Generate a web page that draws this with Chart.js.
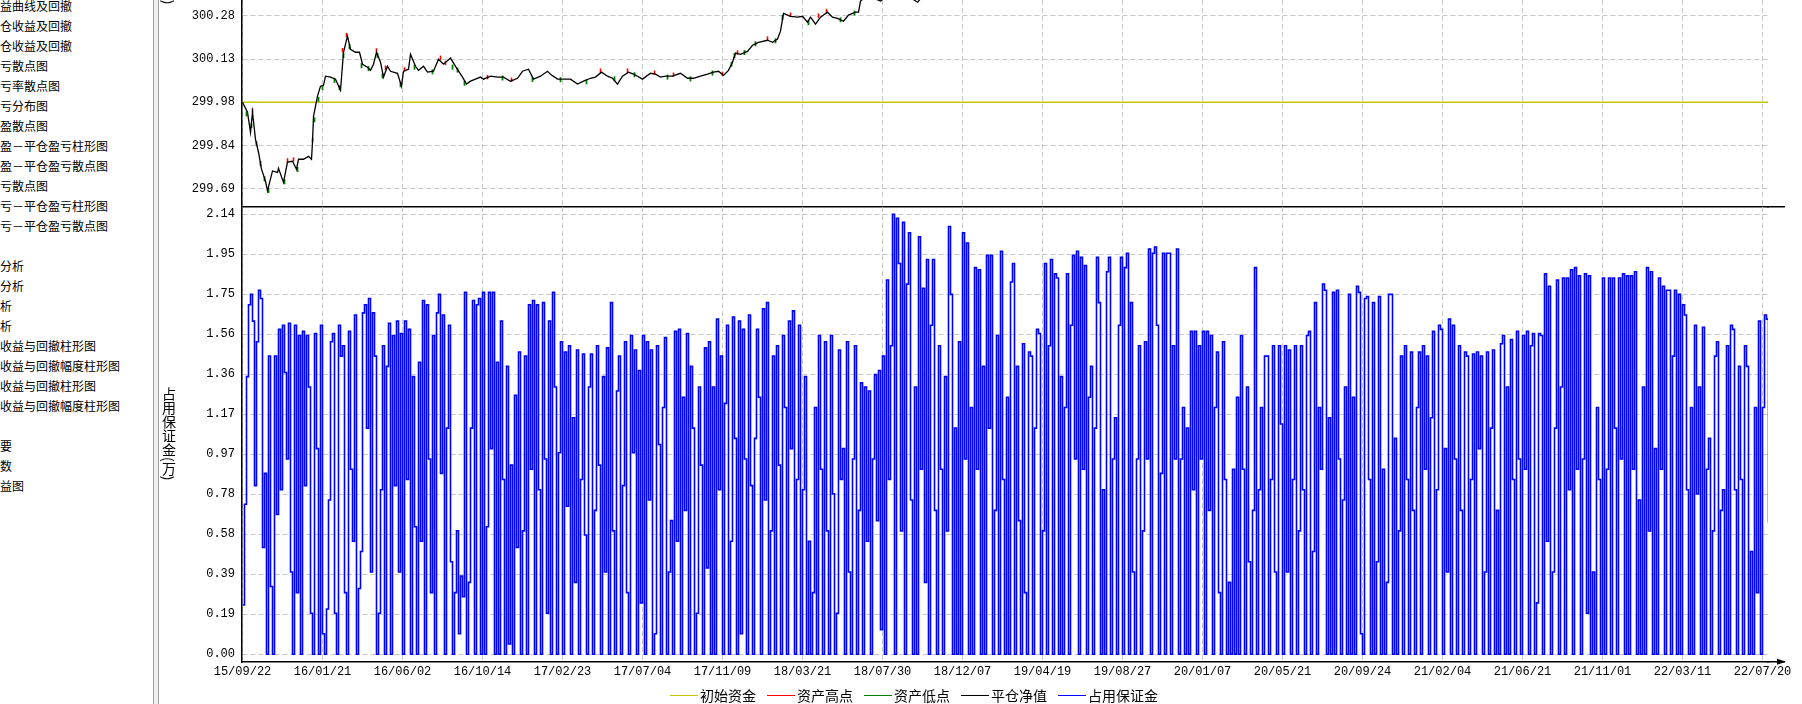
<!DOCTYPE html>
<html>
<head>
<meta charset="utf-8">
<script src="https://cdn.jsdelivr.net/npm/chart.js@4.4.1/dist/chart.umd.min.js"></script>
<style>
html,body{margin:0;padding:0;background:#fff;}
body{width:1802px;height:704px;overflow:hidden;position:relative;}
#side{position:absolute;left:0;top:0;width:153px;height:704px;overflow:hidden;font-family:"Noto Sans CJK SC";font-size:12px;color:#000;}
.row{position:absolute;left:0;height:20px;line-height:20px;white-space:nowrap;}
#split{position:absolute;left:153px;top:0;width:4px;height:704px;border-left:1px solid #a0a0a0;border-right:1px solid #a0a0a0;background:#f0f0f0;}
canvas{position:absolute;}
#cTop{left:160px;top:0;}
#cBot{left:160px;top:197px;}
.vtitle{position:absolute;writing-mode:vertical-rl;font-family:"Noto Sans CJK SC";font-size:14px;line-height:14px;color:#000;white-space:nowrap;}
#legend{position:absolute;top:686px;left:670px;height:18px;display:flex;align-items:center;font-family:"Noto Sans CJK SC";font-size:14px;color:#000;white-space:nowrap;}
.lg{display:flex;align-items:center;margin-right:11px;}
.lg i{display:inline-block;width:28px;height:0;border-top:1.5px solid #000;margin-right:2px;}
</style>
</head>
<body>
<div id="side"></div>
<div id="split"></div>
<canvas id="cTop" width="1642" height="208"></canvas>
<canvas id="cBot" width="1642" height="507"></canvas>
<div class="vtitle" id="tTop" style="left:162px;bottom:700px;">资产(万)</div>
<div class="vtitle" id="tBot" style="left:162px;top:387px;">占用保证金(万)</div>
<div id="legend"></div>
<script>
// ---------------- data ----------------
const leftPanelRows = ['益曲线及回撤','仓收益及回撤','仓收益及回撤','亏散点图','亏率散点图','亏分布图','盈散点图','盈－平仓盈亏柱形图','盈－平仓盈亏散点图','亏散点图','亏－平仓盈亏柱形图','亏－平仓盈亏散点图','','分析','分析','析','析','收益与回撤柱形图','收益与回撤幅度柱形图','收益与回撤柱形图','收益与回撤幅度柱形图','','要','数','益图'];

const dateTickDays = [0,80,160,240,320,400,480,560,640,720,800,880,960,1040,1120,1200,1280,1360,1440,1520];
const dateTickLabels = ['15/09/22','16/01/21','16/06/02','16/10/14','17/02/23','17/07/04','17/11/09','18/03/21','18/07/30','18/12/07','19/04/19','19/08/27','20/01/07','20/05/21','20/09/24','21/02/04','21/06/21','21/11/01','22/03/11','22/07/20'];
const LAST_DAY = 1526;

const equityTickValues = [299.685, 299.8325, 299.98, 300.1275, 300.275];
const equityTickLabels = ['299.69','299.84','299.98','300.13','300.28'];
const marginTickValues = [0, 0.1945, 0.389, 0.5835, 0.778, 0.9725, 1.167, 1.3615, 1.556, 1.7505, 1.945, 2.1395];
const marginTickLabels = ['0.00','0.19','0.39','0.58','0.78','0.97','1.17','1.36','1.56','1.75','1.95','2.14'];

const initialCapital = 299.98;

// closed equity (平仓净值): trading-day index and value
const equityDays = [0,5,8,10,13,16,19,23,25,30,35,36,41,45,50,54,56,61,66,69,70,71,75,78,81,83,88,93,98,101,105,108,113,117,120,125,128,131,134,138,141,145,148,155,159,161,166,168,173,176,181,185,191,196,201,208,213,220,224,228,233,238,241,248,255,261,268,275,280,286,291,298,305,308,315,321,328,335,341,348,353,359,365,370,375,380,386,391,395,400,408,413,418,423,430,438,445,451,458,465,471,476,481,486,490,493,498,505,510,516,525,530,535,538,541,548,555,560,565,568,573,578,585,590,595,601,606,613,616,618,625,638,645,658,675,690,720,780,850,920,1000,1080,1160,1240,1320,1400,1480,1526];
const equityValues = [299.980,299.946,299.877,299.946,299.853,299.809,299.751,299.710,299.677,299.745,299.740,299.754,299.706,299.775,299.778,299.751,299.785,299.785,299.795,299.785,299.843,299.932,300.001,300.035,300.038,300.069,300.066,300.059,300.021,300.151,300.206,300.161,300.151,300.151,300.110,300.100,300.089,300.110,300.151,300.117,300.066,300.103,300.086,300.079,300.035,300.086,300.093,300.144,300.103,300.089,300.103,300.083,300.086,300.127,300.110,300.131,300.103,300.066,300.042,300.052,300.059,300.066,300.059,300.069,300.066,300.066,300.052,300.062,300.086,300.093,300.059,300.069,300.086,300.076,300.059,300.059,300.059,300.042,300.052,300.062,300.066,300.083,300.069,300.062,300.042,300.069,300.083,300.076,300.069,300.059,300.079,300.076,300.066,300.069,300.069,300.079,300.062,300.062,300.069,300.076,300.083,300.086,300.072,300.089,300.117,300.148,300.144,300.154,300.175,300.185,300.192,300.185,300.196,300.223,300.284,300.274,300.271,300.274,300.254,300.271,300.247,300.271,300.288,300.271,300.267,300.257,300.278,300.288,300.288,300.326,300.345,300.326,300.345,300.360,300.322,300.380,300.420,300.480,300.530,300.580,300.620,300.660,300.700,300.760,300.800,300.850,300.880,300.900];

// asset highs (资产高点) and lows (资产低点)
const highDays = [10,45,51,70,100,104,134,143,162,198,203,245,269,358,385,412,431,480,495,525,548,576,584];
const highValues = [299.952,299.781,299.784,299.850,300.158,300.210,300.157,300.098,300.092,300.132,300.114,300.066,300.057,300.088,300.088,300.081,300.074,300.077,300.150,300.198,300.279,300.276,300.292];
const lowDays = [4,9,14,18,22,26,42,55,72,76,80,92,97,101,107,119,126,135,140,158,172,190,210,215,222,260,290,318,344,372,392,425,448,470,489,492,502,513,533,540,566,598,612];
const lowValues = [299.940,299.900,299.838,299.770,299.718,299.678,299.708,299.750,299.920,299.990,300.030,300.055,300.030,300.140,300.170,300.105,300.095,300.140,300.070,300.040,300.100,300.084,300.100,300.090,300.045,300.063,300.058,300.057,300.050,300.060,300.074,300.066,300.060,300.080,300.110,300.140,300.150,300.180,300.190,300.270,300.252,300.262,300.285];

// occupied margin (占用保证金), one reading every 2 trading days
const MARGIN_STEP_DAYS = 2;
const marginValues = [
0.24,0.73,1.35,1.70,1.75,1.62,0.82,1.52,1.77,1.73,0.52,0.88,0.00,1.45,0.33,0.00,1.45,0.68,1.58,0.80,1.60,1.37,0.95,1.61,0.40,0.00,1.60,0.30,1.55,0.00,1.57,0.82,1.55,1.30,0.20,0.00,1.56,1.00,0.00,1.60,
0.10,0.00,0.22,0.75,1.52,1.56,0.20,0.00,1.60,1.45,1.50,0.30,0.00,1.57,0.90,0.55,1.65,0.00,0.32,0.50,1.66,1.70,1.10,1.73,0.40,1.66,1.45,0.00,0.20,0.80,1.50,0.00,1.40,1.61,0.00,1.55,0.82,1.62,0.40,1.56,
0.00,1.62,0.85,1.58,0.00,1.35,0.62,0.00,1.42,0.55,1.72,0.00,1.70,0.95,0.30,1.55,0.00,1.66,1.75,0.88,1.65,0.00,1.10,1.60,0.45,0.00,0.30,0.60,0.10,0.38,0.28,1.76,0.00,0.35,1.10,1.72,0.00,1.70,1.73,0.00,
1.76,0.00,0.62,1.76,1.00,1.76,0.00,1.42,0.00,1.62,0.85,0.00,1.40,0.05,0.92,0.00,1.26,0.52,1.47,0.00,0.60,1.45,0.00,1.70,0.90,1.72,0.00,1.70,0.80,0.00,1.71,0.95,0.20,1.62,0.00,1.76,1.30,0.00,0.98,1.52,
0.00,1.47,0.72,1.50,0.00,1.15,0.35,1.48,0.00,0.85,1.46,0.58,0.00,1.30,1.46,0.00,0.70,1.50,0.92,0.00,1.35,0.40,1.49,0.00,1.71,0.60,0.00,1.28,1.45,0.00,0.82,1.52,0.30,0.00,1.55,0.98,1.48,0.00,1.38,0.25,
1.55,0.00,1.52,0.75,1.48,0.00,0.10,1.50,1.02,0.00,1.20,1.54,0.00,0.40,0.65,0.00,1.57,0.55,1.58,0.00,1.25,0.70,1.56,0.00,1.40,1.10,0.00,0.20,1.30,0.92,0.00,1.49,0.42,1.52,0.00,1.30,0.00,1.63,0.80,1.45,
0.00,1.22,1.60,0.00,0.55,1.64,1.05,0.00,1.62,0.10,1.58,0.95,0.00,1.65,0.82,0.00,1.05,1.58,1.25,0.00,1.68,0.75,1.71,0.00,0.60,1.45,0.00,1.50,0.92,0.00,1.55,1.20,0.00,1.62,1.00,1.67,0.00,0.85,1.60,0.00,
0.80,1.35,0.00,0.55,0.00,0.30,1.20,0.00,1.55,0.90,0.00,1.52,0.60,0.00,1.55,0.78,0.00,0.20,1.48,0.85,1.00,0.00,1.52,0.40,0.00,0.95,1.50,0.00,0.70,1.32,0.00,1.30,0.55,1.28,0.00,0.95,1.36,0.65,1.38,0.12,
1.45,0.00,1.82,0.85,1.50,2.14,0.00,2.12,1.90,0.60,2.10,0.00,1.80,2.05,0.75,0.00,1.30,0.00,2.03,0.90,1.78,0.35,1.92,0.00,1.60,1.92,0.70,0.00,1.50,0.90,0.00,1.35,0.60,2.08,1.75,0.00,1.10,0.00,1.52,0.00,
2.05,0.95,2.00,0.00,1.20,0.00,1.88,0.90,1.87,0.00,1.40,0.00,1.94,1.10,1.94,0.00,0.70,1.55,0.00,1.96,0.85,0.00,1.25,0.00,1.81,1.90,0.00,1.40,0.65,0.00,1.51,0.30,0.00,1.47,1.45,0.00,1.10,1.58,1.56,0.00,
0.60,1.90,0.00,1.50,1.92,0.00,1.85,1.83,0.00,1.35,0.00,1.20,1.85,0.00,1.60,1.94,0.95,1.96,0.00,1.93,0.90,1.89,0.00,1.25,1.40,0.00,1.10,1.93,1.71,0.00,0.80,0.00,1.86,1.93,0.00,0.95,1.15,0.00,1.60,1.93,
0.00,1.88,1.95,0.00,1.71,0.40,0.00,0.95,1.50,0.00,0.60,1.52,0.95,1.97,0.00,1.95,1.98,1.60,0.00,0.88,1.95,0.00,1.95,1.95,0.00,1.50,0.95,1.97,0.00,0.95,1.20,0.00,1.10,0.00,1.57,0.80,1.57,0.00,1.50,0.95,
1.57,0.00,1.57,0.70,1.55,0.00,1.20,1.47,0.30,0.00,1.52,0.85,0.00,0.35,0.00,0.90,0.00,1.25,0.00,1.55,0.90,0.00,1.30,0.45,0.00,0.70,1.88,0.00,0.80,1.20,0.00,1.45,1.45,0.00,0.85,1.50,0.40,0.00,1.50,1.12,
0.00,1.50,0.40,1.48,0.00,0.85,1.50,0.00,0.60,1.50,0.80,0.00,1.55,1.57,0.00,0.50,1.71,0.00,1.20,0.90,1.80,1.77,0.00,1.15,0.00,1.76,0.00,1.77,0.95,0.00,0.75,1.30,0.00,1.75,0.00,1.25,0.00,1.79,1.76,0.10,
0.00,1.73,1.74,0.85,0.00,1.71,0.00,0.45,1.74,0.00,0.90,0.00,0.35,1.75,1.75,0.00,1.05,0.00,0.60,1.45,0.00,1.50,0.85,0.00,1.47,0.70,0.00,1.20,1.47,0.00,1.50,0.90,1.45,0.00,1.15,1.57,0.00,0.80,1.60,1.58,
0.00,1.00,0.40,1.63,0.00,1.60,0.95,0.00,1.50,0.70,0.00,1.47,1.45,0.00,0.85,1.46,0.00,1.47,1.00,1.45,0.00,0.40,1.47,0.00,1.10,1.48,0.00,0.70,0.00,1.51,1.55,0.00,1.30,0.00,1.53,0.85,0.00,1.57,0.95,0.00,
1.55,0.90,1.57,0.00,1.50,1.56,0.00,0.25,1.56,1.55,0.00,1.85,0.55,1.79,0.00,0.40,1.10,1.82,0.00,1.30,1.83,0.00,1.83,0.80,1.87,0.00,1.88,0.90,1.84,0.00,0.95,1.85,0.20,1.84,0.00,0.40,0.00,1.20,0.85,0.00,
1.83,0.00,0.90,1.83,0.00,1.83,1.10,0.00,1.83,0.95,1.85,0.00,1.84,0.00,1.84,0.90,1.86,0.00,0.75,0.00,1.30,0.00,1.88,0.60,1.86,0.00,1.00,0.00,1.83,0.90,1.79,0.00,1.77,1.77,0.00,1.45,1.77,0.00,1.75,0.00,
1.70,1.65,0.80,0.00,1.20,0.00,1.60,0.78,1.30,0.00,1.59,0.00,0.90,1.05,0.00,0.60,1.45,1.52,0.00,0.70,0.80,0.00,1.50,0.00,1.60,1.58,0.80,0.00,1.40,0.85,0.00,1.50,1.40,0.00,0.50,0.00,1.20,0.30,1.62,0.00,
1.20,1.65,1.63,0.64
];

const seriesNames = ['初始资金','资产高点','资产低点','平仓净值','占用保证金'];
const seriesColors = ['#c4c400','#ff0000','#008000','#000000','#0000ff'];

// ---------------- page furniture ----------------
const side = document.getElementById('side');
leftPanelRows.forEach((t, i) => {
  const d = document.createElement('div');
  d.className = 'row'; d.style.top = (i * 20 - 4) + 'px'; d.textContent = t;
  side.appendChild(d);
});
const lg = document.getElementById('legend');
seriesNames.forEach((n, i) => {
  const s = document.createElement('span'); s.className = 'lg';
  const l = document.createElement('i'); l.style.borderTopColor = seriesColors[i];
  s.appendChild(l); s.appendChild(document.createTextNode(n)); lg.appendChild(s);
});

// ---------------- charts ----------------
const GRID = '#c8c8c8';
const DASH = [5, 3];
const tickFont = {family: 'Liberation Mono', size: 12};
const X_MIN = -0.5, X_MAX = LAST_DAY - 0.5;

const axisExt = {
  id: 'axisExt',
  afterDraw(chart, args, opts) {
    const {ctx, chartArea: a} = chart;
    const y = Math.round(a.bottom - 0.75) + 0.75;
    ctx.save();
    ctx.strokeStyle = '#000'; ctx.lineWidth = 1.5;
    ctx.beginPath(); ctx.moveTo(a.right - 1, y); ctx.lineTo(a.right + opts.len, y); ctx.stroke();
    if (opts.arrow) {
      ctx.fillStyle = '#000';
      ctx.beginPath();
      ctx.moveTo(a.right + opts.len - 8, y - 3);
      ctx.lineTo(a.right + opts.len + 1, y);
      ctx.lineTo(a.right + opts.len - 8, y + 3);
      ctx.closePath(); ctx.fill();
    }
    ctx.restore();
  }
};

function xScale(showLabels, height) {
  return {
    type: 'linear', min: X_MIN, max: X_MAX,
    afterBuildTicks: s => { s.ticks = dateTickDays.map(v => ({value: v})); },
    afterFit: s => { s.height = height; s.paddingLeft = 0; s.paddingRight = 0; s.paddingTop = 0; s.paddingBottom = 0; },
    ticks: {display: showLabels, autoSkip: false, maxRotation: 0, padding: 3, color: '#000', font: tickFont,
            callback: (v, i) => dateTickLabels[i]},
    grid: {color: GRID, lineWidth: 1, drawTicks: false, borderDash: DASH},
    border: {display: true, color: '#000', width: 1.5, dash: DASH}
  };
}
function yScale(min, max, vals, labels) {
  return {
    type: 'linear', min: min, max: max,
    afterBuildTicks: s => { s.ticks = vals.map(v => ({value: v})); },
    afterFit: s => { s.width = 82; s.paddingTop = 0; s.paddingBottom = 0; s.paddingLeft = 0; s.paddingRight = 0; },
    ticks: {autoSkip: false, padding: 7, color: '#000', font: tickFont, callback: (v, i) => labels[i]},
    grid: {color: GRID, lineWidth: 1, drawTicks: false, borderDash: DASH},
    border: {display: true, color: '#000', width: 1.5, dash: DASH}
  };
}
const baseOpts = {
  responsive: false, animation: false, devicePixelRatio: 1, events: [],
  plugins: {legend: {display: false}, tooltip: {enabled: false}}
};

const toXY = (days, vals) => days.map((d, i) => ({x: d, y: vals[i]}));

new Chart(document.getElementById('cTop'), {
  type: 'line',
  data: {datasets: [
    {label: seriesNames[3], data: toXY(equityDays, equityValues), borderColor: seriesColors[3], borderWidth: 1.3, pointRadius: 0, tension: 0, order: 0},
    {label: seriesNames[1], data: toXY(highDays, highValues), showLine: false, pointStyle: 'line', rotation: 90, pointRadius: 2.2, pointBorderWidth: 1.6, pointBorderColor: seriesColors[1], borderColor: seriesColors[1], order: 1},
    {label: seriesNames[2], data: toXY(lowDays, lowValues), showLine: false, pointStyle: 'line', rotation: 90, pointRadius: 2.5, pointBorderWidth: 1.8, pointBorderColor: seriesColors[2], borderColor: seriesColors[2], order: 2},
    {label: seriesNames[0], data: [{x: 0, y: initialCapital}, {x: LAST_DAY, y: initialCapital}], borderColor: seriesColors[0], borderWidth: 1.6, pointRadius: 0, order: 3}
  ]},
  options: Object.assign({}, baseOpts, {
    layout: {autoPadding: false, padding: {left: 0, right: 34, top: 0, bottom: 0}},
    scales: {x: xScale(false, 1), y: yScale(299.6217, 300.3297, equityTickValues, equityTickLabels)},
    plugins: Object.assign({}, baseOpts.plugins, {axisExt: {len: 17, arrow: false}})
  }),
  plugins: [axisExt]
});

new Chart(document.getElementById('cBot'), {
  type: 'line',
  data: {datasets: [
    {label: seriesNames[4], data: marginValues.map((v, i) => ({x: i * MARGIN_STEP_DAYS, y: v})), borderColor: seriesColors[4], borderWidth: 1.6, pointRadius: 0, stepped: true}
  ]},
  options: Object.assign({}, baseOpts, {
    layout: {autoPadding: false, padding: {left: 0, right: 34, top: 10, bottom: 0}},
    scales: {x: xScale(true, 42), y: yScale(-0.0374, 2.175, marginTickValues, marginTickLabels)},
    plugins: Object.assign({}, baseOpts.plugins, {axisExt: {len: 17, arrow: true}})
  }),
  plugins: [axisExt]
});
</script>
</body>
</html>
